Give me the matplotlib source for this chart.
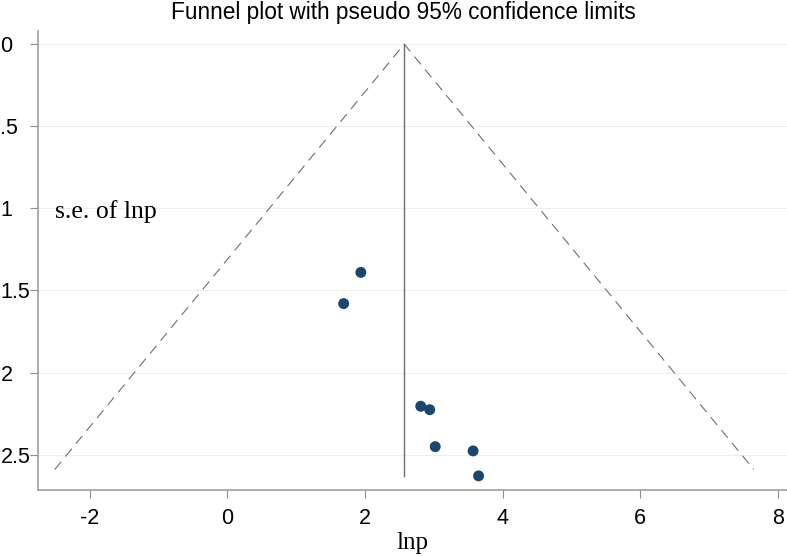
import matplotlib
matplotlib.use("Agg")
import matplotlib.pyplot as plt

# study estimates (lnp) and their standard errors
lnp = [1.94, 1.69, 2.81, 2.94, 3.02, 3.57, 3.65]
se_lnp = [1.39, 1.58, 2.205, 2.226, 2.451, 2.477, 2.629]
pooled = 2.57
se_max = 2.63
funnel_se = 2.59

xticks = [-2, 0, 2, 4, 6, 8]
yticks = [0, 0.5, 1, 1.5, 2, 2.5]
ytick_labels = ["0", ".5", "1", "1.5", "2", "2.5"]

gray = "#8c8c8c"
navy = "#1a476f"

fig = plt.figure(figsize=(7.87, 5.56), dpi=100)
ax = fig.add_axes([38 / 787, 1 - 490 / 556, 1 - 38 / 787, (490 - 31) / 556])

# pseudo 95% confidence limits
lo = pooled - 1.96 * funnel_se
hi = pooled + 1.96 * funnel_se
ax.plot([lo, pooled, hi], [funnel_se, 0, funnel_se], color="#6e6e6e",
        lw=0.8, ls=(0, (9, 6)))
ax.plot([pooled, pooled], [0, se_max], color="#6e6e6e", lw=1.0)

ax.scatter(lnp, se_lnp, s=62, color=navy, zorder=3, edgecolors="none")

ax.set_xlim(-2.75, 8.13)
ax.set_ylim(2.715, -0.08)

ax.set_xticks(xticks)
ax.set_xticklabels([str(t) for t in xticks], fontsize=15.5, family="Liberation Sans")
ax.set_yticks(yticks)
ax.set_yticklabels(ytick_labels, fontsize=15.5, family="Liberation Sans")
for lab in ax.get_yticklabels():
    lab.set_horizontalalignment("left")
ax.tick_params(axis="y", length=6, width=0.8, color=gray, pad=21)
ax.tick_params(axis="x", length=6, width=0.8, color=gray, pad=7)

ax.grid(axis="y", color="#eeeeee", lw=0.8)
ax.set_axisbelow(True)

for side in ["top", "right"]:
    ax.spines[side].set_visible(False)
for side in ["left", "bottom"]:
    ax.spines[side].set_color("#a0a0a0")
    ax.spines[side].set_linewidth(1.2)

ax.text(-2.5, 1.02, "s.e. of lnp", family="Liberation Serif", fontsize=18.5,
        va="center", ha="left")
ax.set_xlabel("lnp", family="Liberation Serif", fontsize=18, labelpad=2)
fig.suptitle("Funnel plot with pseudo 95% confidence limits",
             family="Liberation Sans", fontsize=16.3, x=0.512, y=0.998, va="top")

fig.savefig("out.png", dpi=100)
